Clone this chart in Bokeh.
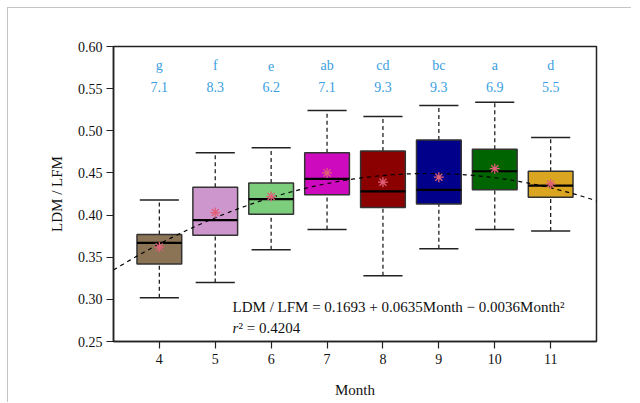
from bokeh.plotting import figure
from bokeh.models import FixedTicker, PrintfTickFormatter, Label, ColumnDataSource
from bokeh.core.properties import value
from bokeh.embed import file_html
from bokeh.resources import INLINE
import numpy as np

months = [4, 5, 6, 7, 8, 9, 10, 11]
whisker_low = [0.302, 0.320, 0.359, 0.383, 0.328, 0.360, 0.383, 0.381]
q1 = [0.342, 0.376, 0.401, 0.424, 0.409, 0.413, 0.430, 0.421]
median = [0.367, 0.394, 0.419, 0.443, 0.428, 0.430, 0.452, 0.435]
q3 = [0.377, 0.433, 0.438, 0.474, 0.476, 0.489, 0.478, 0.452]
whisker_high = [0.418, 0.474, 0.480, 0.524, 0.517, 0.530, 0.534, 0.492]
means = [0.362, 0.403, 0.422, 0.450, 0.439, 0.445, 0.455, 0.437]
colors = ["#8B7355", "#CD96CD", "#7CCD7C", "#CD0ABE", "#8B0000", "#00008B", "#006400", "#DAA520"]
letters = ["g", "f", "e", "ab", "cd", "bc", "a", "d"]
cv_labels = ["7.1", "8.3", "6.2", "7.1", "9.3", "9.3", "6.9", "5.5"]
coef = [0.1693, 0.0635, -0.0036]
y_ticks = [0.25, 0.30, 0.35, 0.40, 0.45, 0.50, 0.55, 0.60]

FONT = "Liberation Serif"
X0, X1 = 3.18, 11.82
W = 0.8

p = figure(width=624, height=395, output_backend="svg", toolbar_location=None,
           x_range=(X0, X1), y_range=(0.25, 0.60),
           min_border_left=105, min_border_right=36, min_border_top=38, min_border_bottom=62,
           styles={"margin-left": "8px", "margin-top": "8px", "box-shadow": "-1px -1px 0 #c4c4c4"})
p.grid.visible = False
p.outline_line_color = "#222222"
p.outline_line_width = 1.5
p.background_fill_color = "white"
p.border_fill_color = "white"

for ax in (p.xaxis[0], p.yaxis[0]):
    ax.axis_line_color = "#222222"
    ax.axis_line_width = 1.5
    ax.major_tick_line_color = "#222222"
    ax.major_tick_line_width = 1.2
    ax.major_tick_out = 7
    ax.major_tick_in = 0
    ax.minor_tick_line_color = None
    ax.major_label_text_font = FONT
    ax.major_label_text_font_size = "14px"
    ax.major_label_text_color = "#111111"
    ax.axis_label_text_font = FONT
    ax.axis_label_text_font_size = "15px"
    ax.axis_label_text_font_style = "normal"
    ax.axis_label_text_color = "#111111"

p.xaxis.ticker = FixedTicker(ticks=months)
p.yaxis.ticker = FixedTicker(ticks=y_ticks)
p.yaxis.formatter = PrintfTickFormatter(format="%.2f")
p.xaxis.axis_label = "Month"
p.yaxis.axis_label = "LDM / LFM"
p.xaxis.axis_label_standoff = 15
p.yaxis.axis_label_standoff = 10
p.xaxis.major_label_standoff = 5
p.yaxis.major_label_standoff = 4

src = ColumnDataSource(dict(x=months, lo=whisker_low, q1=q1, med=median, q3=q3, hi=whisker_high,
                            mean=means, color=colors,
                            left=[m - W / 2 for m in months], right=[m + W / 2 for m in months],
                            cl=[m - 0.35 for m in months], cr=[m + 0.35 for m in months]))

# whiskers (dashed)
p.segment(x0="x", y0="q3", x1="x", y1="hi", source=src, line_color="#222222", line_width=1.3, line_dash="4 3")
p.segment(x0="x", y0="lo", x1="x", y1="q1", source=src, line_color="#222222", line_width=1.3, line_dash="4 3")
# caps
p.segment(x0="cl", y0="hi", x1="cr", y1="hi", source=src, line_color="#222222", line_width=1.5)
p.segment(x0="cl", y0="lo", x1="cr", y1="lo", source=src, line_color="#222222", line_width=1.5)
# boxes
p.quad(left="left", right="right", bottom="q1", top="q3", source=src,
       fill_color="color", line_color="#333333", line_width=1.5)
# medians
p.segment(x0="left", y0="med", x1="right", y1="med", source=src, line_color="black", line_width=2.2)

# regression curve
xs = np.linspace(X0, X1, 200)
ys = coef[0] + coef[1] * xs + coef[2] * xs ** 2
p.line(xs, ys, line_color="black", line_width=1.2, line_dash="4 4")

# means
p.scatter(x="x", y="mean", source=src, marker="asterisk", size=10, line_color="#E06078", line_width=1.3)

# letters and numbers on top
p.text(x=months, y=[0.5774] * len(months), text=letters, text_font=value(FONT), text_font_size="14px",
       text_color="#3A9EE0", text_align="center", text_baseline="middle")
p.text(x=months, y=[0.5525] * len(months), text=cv_labels, text_font=value(FONT), text_font_size="14px",
       text_color="#3A9EE0", text_align="center", text_baseline="middle")

eq = "LDM / LFM = %.4f + %.4fMonth \u2212 %.4fMonth\u00b2" % (coef[0], coef[1], -coef[2])
p.add_layout(Label(x=5.31, y=0.2905, text=eq, text_font=FONT, text_font_size="15px",
                   text_color="#111111", text_baseline="middle"))
p.add_layout(Label(x=5.31, y=0.2655, text="r", text_font=FONT, text_font_size="15px",
                   text_font_style="italic", text_color="#111111", text_baseline="middle"))
p.add_layout(Label(x=5.31, y=0.2655, x_offset=6, text="\u00b2 = 0.4204", text_font=FONT,
                   text_font_size="15px", text_color="#111111", text_baseline="middle"))

open("out.html", "w").write(file_html(p, INLINE))
